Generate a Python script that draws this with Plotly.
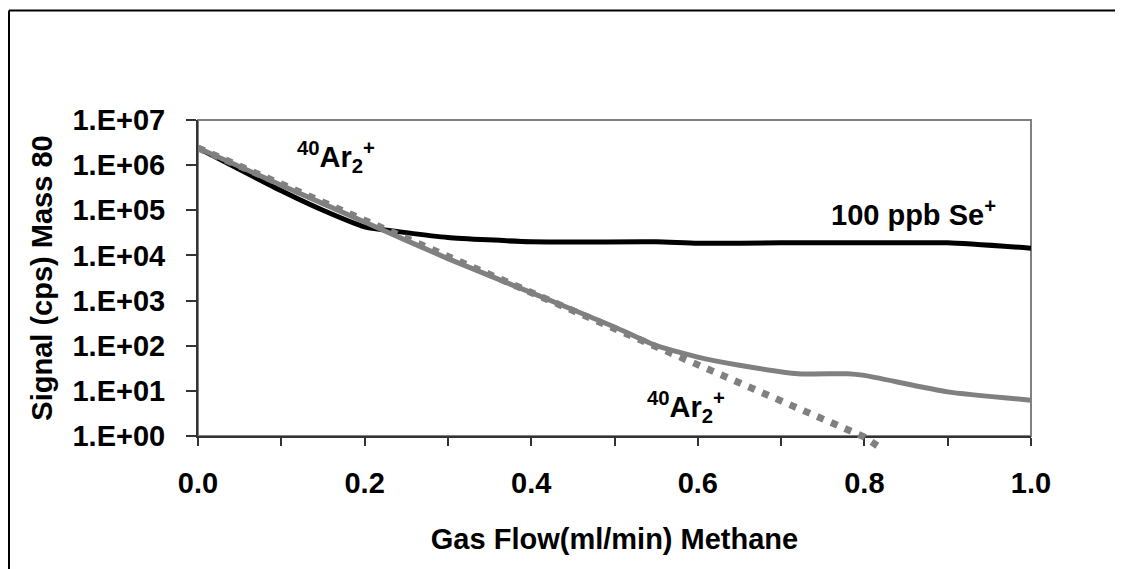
import math
import plotly.graph_objects as go

# ---------------- data ----------------
flow_se = [0.0, 0.1, 0.15, 0.2, 0.25, 0.3, 0.4, 0.55, 0.6, 0.7, 0.8, 0.9, 1.0]
signal_se = [2.4e6, 2.7e5, 1.0e5, 4.3e4, 3.2e4, 2.5e4, 2.0e4, 2.0e4, 1.85e4, 1.9e4, 1.9e4, 1.9e4, 1.45e4]

flow_ar = [0.0, 0.1, 0.2, 0.3, 0.4, 0.5, 0.55, 0.6, 0.65, 0.72, 0.78, 0.8, 0.9, 1.0]
signal_ar = [2.4e6, 3.6e5, 5.5e4, 8.5e3, 1.5e3, 2.6e2, 1.0e2, 5.6e1, 3.7e1, 2.4e1, 2.4e1, 2.2e1, 9.5, 6.2]

flow_ar_trend = [0.0, 0.1, 0.2, 0.3, 0.4, 0.5, 0.6, 0.7, 0.8, 0.816]
signal_ar_trend = [2.4e6, 3.8e5, 6.0e4, 9.5e3, 1.5e3, 2.4e2, 3.8e1, 6.0, 0.95, 0.6]

x_tickvals = [0.0, 0.1, 0.2, 0.3, 0.4, 0.5, 0.6, 0.7, 0.8, 0.9, 1.0]
x_ticktext = ["0.0", "", "0.2", "", "0.4", "", "0.6", "", "0.8", "", "1.0"]
y_tickvals = [1, 10, 100, 1e3, 1e4, 1e5, 1e6, 1e7]
y_ticktext = ["1.E+00", "1.E+01", "1.E+02", "1.E+03", "1.E+04", "1.E+05", "1.E+06", "1.E+07"]

x_title = "Gas Flow(ml/min) Methane"
y_title = "Signal (cps) Mass 80"

# ---------------- layout geometry ----------------
OFF = 8                                # page body margin
W, H = 1123 - OFF, 569 - OFF
L, R, T, B = 198 - OFF, 1031 - OFF, 120 - OFF, 436 - OFF   # plot area in figure px
EXT = 22                               # extra px below the axis for the overshooting dotted line
plot_h = (B + EXT) - T
dec_px = (B - T) / 7.0

FONT = "Liberation Sans, Arial, sans-serif"
GREY = "#808080"
AXC = "#333333"
CLEAR = "rgba(0,0,0,0)"

fig = go.Figure()

fig.add_trace(go.Scatter(
    x=flow_se, y=signal_se, mode="lines",
    line=dict(color="black", width=5, shape="spline", smoothing=0.5),
    xaxis="x", yaxis="y", hoverinfo="skip"))

fig.add_trace(go.Scatter(
    x=flow_ar, y=signal_ar, mode="lines",
    line=dict(color=GREY, width=5, shape="spline", smoothing=0.5),
    xaxis="x", yaxis="y", hoverinfo="skip"))

fig.add_trace(go.Scatter(
    x=flow_ar_trend, y=signal_ar_trend, mode="lines",
    line=dict(color=GREY, width=7, dash="7px,8px"),
    xaxis="x2", yaxis="y2", hoverinfo="skip"))

fig.update_layout(
    width=W, height=H,
    margin=dict(l=L, r=W - R, t=T, b=H - B - EXT, pad=0),
    paper_bgcolor="white", plot_bgcolor=CLEAR,
    showlegend=False,
    font=dict(family=FONT, size=29, color="black"),
    xaxis=dict(
        domain=[0, 1], range=[0, 1], anchor="y",
        tickmode="array", tickvals=x_tickvals, ticktext=x_ticktext,
        ticks="outside", ticklen=8, tickwidth=2, tickcolor=AXC,
        showline=True, linecolor=AXC, linewidth=2,
        showgrid=False, zeroline=False,
        tickfont=dict(family=FONT, size=29, color="black", weight="bold"),
        ticklabelstandoff=12,
        title=dict(text="<b>" + x_title + "</b>", standoff=31,
                   font=dict(family=FONT, size=29, color="black")),
    ),
    yaxis=dict(
        domain=[EXT / plot_h, 1], type="log", range=[0, 7], anchor="x",
        tickmode="array", tickvals=y_tickvals, ticktext=y_ticktext,
        ticks="outside", ticklen=10, tickwidth=2, tickcolor=AXC,
        showline=True, linecolor=AXC, linewidth=2,
        showgrid=False, zeroline=False,
        tickfont=dict(family=FONT, size=29, color="black", weight="bold"),
        ticklabelstandoff=15,
        title=dict(text="<b>" + y_title + "</b>", standoff=11,
                   font=dict(family=FONT, size=29, color="black")),
    ),
    xaxis2=dict(domain=[0, 1], range=[0, 1], anchor="y2", visible=False),
    yaxis2=dict(domain=[0, 1], type="log", range=[-EXT / dec_px, 7], anchor="x2", visible=False),
)

# plot-area border (grey), drawn below the traces
fig.add_shape(type="rect", xref="x domain", yref="y domain", x0=0, x1=1, y0=0, y1=1,
              line=dict(color=GREY, width=2), layer="below")

# outer chart frame (top and left edges visible)
def px2paper_x(px):
    return (px - OFF - L) / (R - L)

def px2paper_y(py):
    return ((B + EXT) - (py - OFF)) / plot_h

fx, fy = px2paper_x(9), px2paper_y(10.5)
fig.add_shape(type="line", xref="paper", yref="paper", x0=fx, x1=fx, y0=px2paper_y(620), y1=fy,
              line=dict(color="black", width=2))
fig.add_shape(type="line", xref="paper", yref="paper", x0=fx, x1=px2paper_x(1160), y0=fy, y1=fy,
              line=dict(color="black", width=2))

lab_font = dict(family=FONT, size=29, color="black")
fig.add_annotation(x=0.166, y=6.17, xref="x", yref="y",
                   text="<b><sup>40</sup>Ar<sub>2</sub><sup>+</sup></b>",
                   showarrow=False, font=lab_font, xanchor="center", yanchor="middle")
fig.add_annotation(x=0.586, y=0.64, xref="x", yref="y",
                   text="<b><sup>40</sup>Ar<sub>2</sub><sup>+</sup></b>",
                   showarrow=False, font=lab_font, xanchor="center", yanchor="middle")
fig.add_annotation(x=0.859, y=4.93, xref="x", yref="y",
                   text="<b>100 ppb Se<sup>+</sup></b>",
                   showarrow=False, font=lab_font, xanchor="center", yanchor="middle")

fig.write_html("out.html")
